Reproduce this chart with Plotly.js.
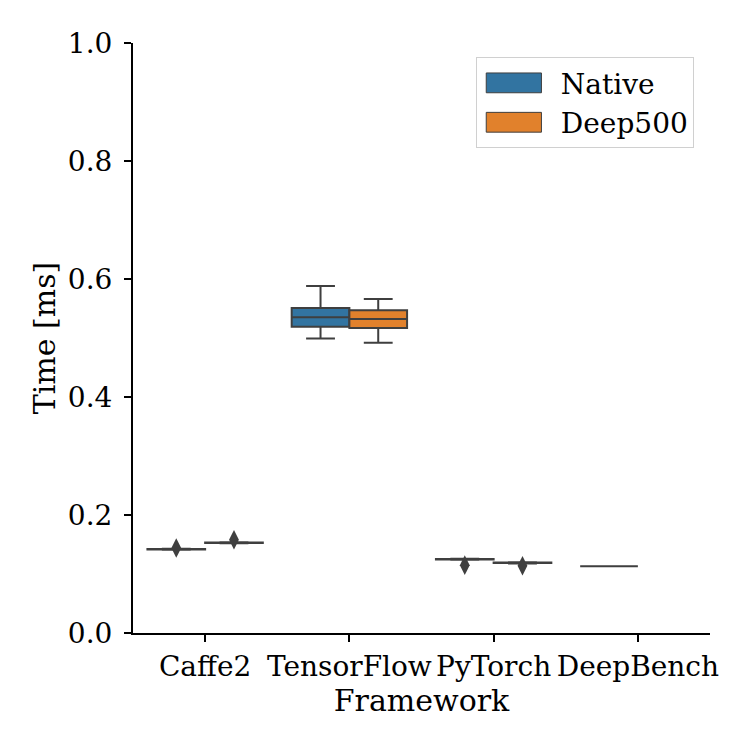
<!DOCTYPE html>
<html>
<head>
<meta charset="utf-8">
<script src="https://cdn.plot.ly/plotly-3.0.1.min.js"></script>
<style>html,body{margin:0;padding:0;background:#fff;}#chart{width:750px;height:750px;}</style>
</head>
<body>
<div id="chart"></div>
<script>
const categories = ['Caffe2', 'TensorFlow', 'PyTorch', 'DeepBench'];
const seriesNames = ['Native', 'Deep500'];

// Native box statistics (ms)
const nativeQ1     = [0.1415, 0.519, 0.1245, 0.1130];
const nativeMedian = [0.1420, 0.535, 0.1250, 0.1130];
const nativeQ3     = [0.1425, 0.551, 0.1255, 0.1130];
const nativeLower  = [0.1410, 0.499, 0.1240, 0.1130];
const nativeUpper  = [0.1430, 0.588, 0.1260, 0.1130];
const nativeOutCat = ['Caffe2', 'PyTorch'];
const nativeOutVal = [0.144, 0.115];

// Deep500 box statistics (ms), no DeepBench value
const deepCats     = ['Caffe2', 'TensorFlow', 'PyTorch'];
const deepQ1       = [0.1525, 0.517, 0.1185];
const deepMedian   = [0.1530, 0.532, 0.1190];
const deepQ3       = [0.1535, 0.547, 0.1195];
const deepLower    = [0.1520, 0.492, 0.1180];
const deepUpper    = [0.1540, 0.566, 0.1200];
const deepOutCat   = ['Caffe2', 'PyTorch'];
const deepOutVal   = [0.158, 0.114];

const yTicks = [0, 0.2, 0.4, 0.6, 0.8, 1.0];

const colors = ['#3274a1', '#e1812c'];
const edge = '#3f3f3f';
const FONT = 'DejaVu Serif, serif';
const offset = 0.2, boxW = 0.4;

const pos = (cats, off) => cats.map(c => categories.indexOf(c) + off);

const traces = [
  {
    type: 'box', name: seriesNames[0], legendgroup: 'n',
    x: pos(categories, -offset),
    q1: nativeQ1, median: nativeMedian, q3: nativeQ3,
    lowerfence: nativeLower, upperfence: nativeUpper,
    width: boxW, whiskerwidth: 0.5,
    fillcolor: colors[0], line: {color: edge, width: 2},
    hoverinfo: 'skip'
  },
  {
    type: 'box', name: seriesNames[1], legendgroup: 'd',
    x: pos(deepCats, offset),
    q1: deepQ1, median: deepMedian, q3: deepQ3,
    lowerfence: deepLower, upperfence: deepUpper,
    width: boxW, whiskerwidth: 0.5,
    fillcolor: colors[1], line: {color: edge, width: 2},
    hoverinfo: 'skip'
  },
  {
    type: 'scatter', mode: 'markers', showlegend: false, legendgroup: 'n',
    x: pos(nativeOutCat, -offset), y: nativeOutVal,
    marker: {symbol: 'diamond-tall', size: 14, color: edge, line: {width: 0}},
    hoverinfo: 'skip'
  },
  {
    type: 'scatter', mode: 'markers', showlegend: false, legendgroup: 'd',
    x: pos(deepOutCat, offset), y: deepOutVal,
    marker: {symbol: 'diamond-tall', size: 14, color: edge, line: {width: 0}},
    hoverinfo: 'skip'
  }
];

const layout = {
  width: 750, height: 750,
  margin: {l: 133, r: 40, t: 43, b: 117},
  paper_bgcolor: '#fff', plot_bgcolor: '#fff',
  font: {family: FONT, size: 28, color: '#000'},
  showlegend: true,
  xaxis: {
    range: [-0.5, 3.5],
    tickmode: 'array',
    tickvals: categories.map((c, i) => i),
    ticktext: categories,
    showgrid: false, zeroline: false,
    showline: true, linecolor: '#000', linewidth: 2,
    ticks: 'outside', ticklen: 7, tickwidth: 1.8, tickcolor: '#000',
    tickfont: {family: FONT, size: 28, color: '#000'},
    title: {text: 'Framework', font: {family: FONT, size: 30, color: '#000'}, standoff: 2}
  },
  yaxis: {
    range: [0, 1],
    tickmode: 'array',
    tickvals: yTicks,
    ticktext: yTicks.map(v => v.toFixed(1)),
    showgrid: false, zeroline: false,
    showline: true, linecolor: '#000', linewidth: 2,
    ticks: 'outside', ticklen: 7, tickwidth: 1.8, tickcolor: '#000',
    tickfont: {family: FONT, size: 28, color: '#000'},
    ticklabelstandoff: 6,
    title: {text: 'Time [ms]', font: {family: FONT, size: 30, color: '#000'}, standoff: 3}
  },
  legend: {
    x: 0.972, xanchor: 'right', y: 0.976, yanchor: 'top',
    bgcolor: '#fff', bordercolor: '#d0d0d0', borderwidth: 1,
    font: {family: FONT, size: 28, color: '#000'},
    itemwidth: 74, tracegroupgap: 0
  }
};

Plotly.newPlot('chart', traces, layout, {displayModeBar: false, staticPlot: true}).then(gd => {
  try {
    gd.querySelectorAll('.legend .legendbox path, .legend .legendpoints path').forEach(p => {
      p.setAttribute('transform', 'translate(37,0) scale(4.6,1.65)');
      p.setAttribute('vector-effect', 'non-scaling-stroke');
      p.style.strokeWidth = '1px';
    });
  } catch (e) {}
});
</script>
</body>
</html>
